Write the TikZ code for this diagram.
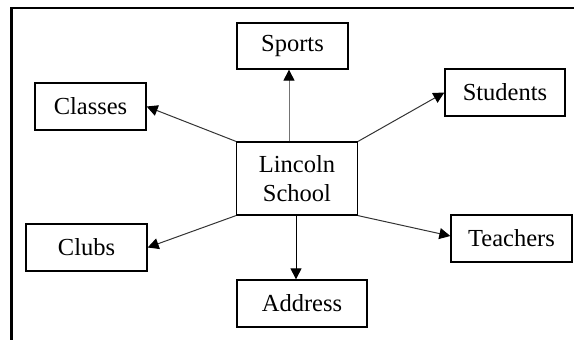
\documentclass[tikz,border=0pt]{standalone}
\usepackage{fontspec}
\setmainfont{Liberation Serif}
\usetikzlibrary{arrows.meta,calc}
\begin{document}
\begin{tikzpicture}[x=1pt,y=-1pt,
  box/.style={draw=black,line width=1.3pt,rectangle,inner sep=0pt,
    font=\fontsize{24.5}{29.5}\selectfont,align=center},
  arr/.style={line width=1pt,-{Triangle[length=11pt,width=11pt,color=black]}},
]
\useasboundingbox (0,0) rectangle (574,340);
% frame
\coordinate (ftl) at (11.5,8.3);
\coordinate (fbl) at (11.5,340);
\coordinate (ftr) at (574,8.3);
\draw[line width=2.2pt,line cap=rect] (fbl) -- (ftl) -- (ftr);
% nodes
\node[box,minimum width=111pt,minimum height=46pt] (S) at (292.5,46) {Sports};
\node[box,minimum width=111pt,minimum height=47pt] (C) at (90.5,106.5) {Classes};
\node[box,minimum width=120pt,minimum height=47pt] (St) at (505,92.5) {Students};
\node[box,minimum width=121pt,minimum height=73pt] (L) at (297,178.5) {Lincoln\\School};
\node[box,minimum width=121pt,minimum height=47pt] (Cl) at (86.5,247.5) {Clubs};
\node[box,minimum width=130pt,minimum height=47pt] (A) at (302,303.5) {Address};
\node[box,minimum width=121pt,minimum height=47pt] (T) at (511.5,238.5) {Teachers};
% connectors
\draw[arr,draw=black!55] ([xshift=-8pt]L.north) -- ([xshift=-8pt]L.north |- S.south);
\draw[arr,draw=black!80] (L.north west) -- (C.east);
\draw[arr,draw=black!80] (L.north east) -- (St.west);
\draw[arr,draw=black!80] (L.south west) -- (Cl.east);
\draw[arr] ([xshift=-1pt]L.south) -- ([xshift=-1pt]L.south |- A.north);
\draw[arr,draw=black!80] (L.south east) -- ([yshift=2.5pt]T.west);
\end{tikzpicture}
\end{document}
